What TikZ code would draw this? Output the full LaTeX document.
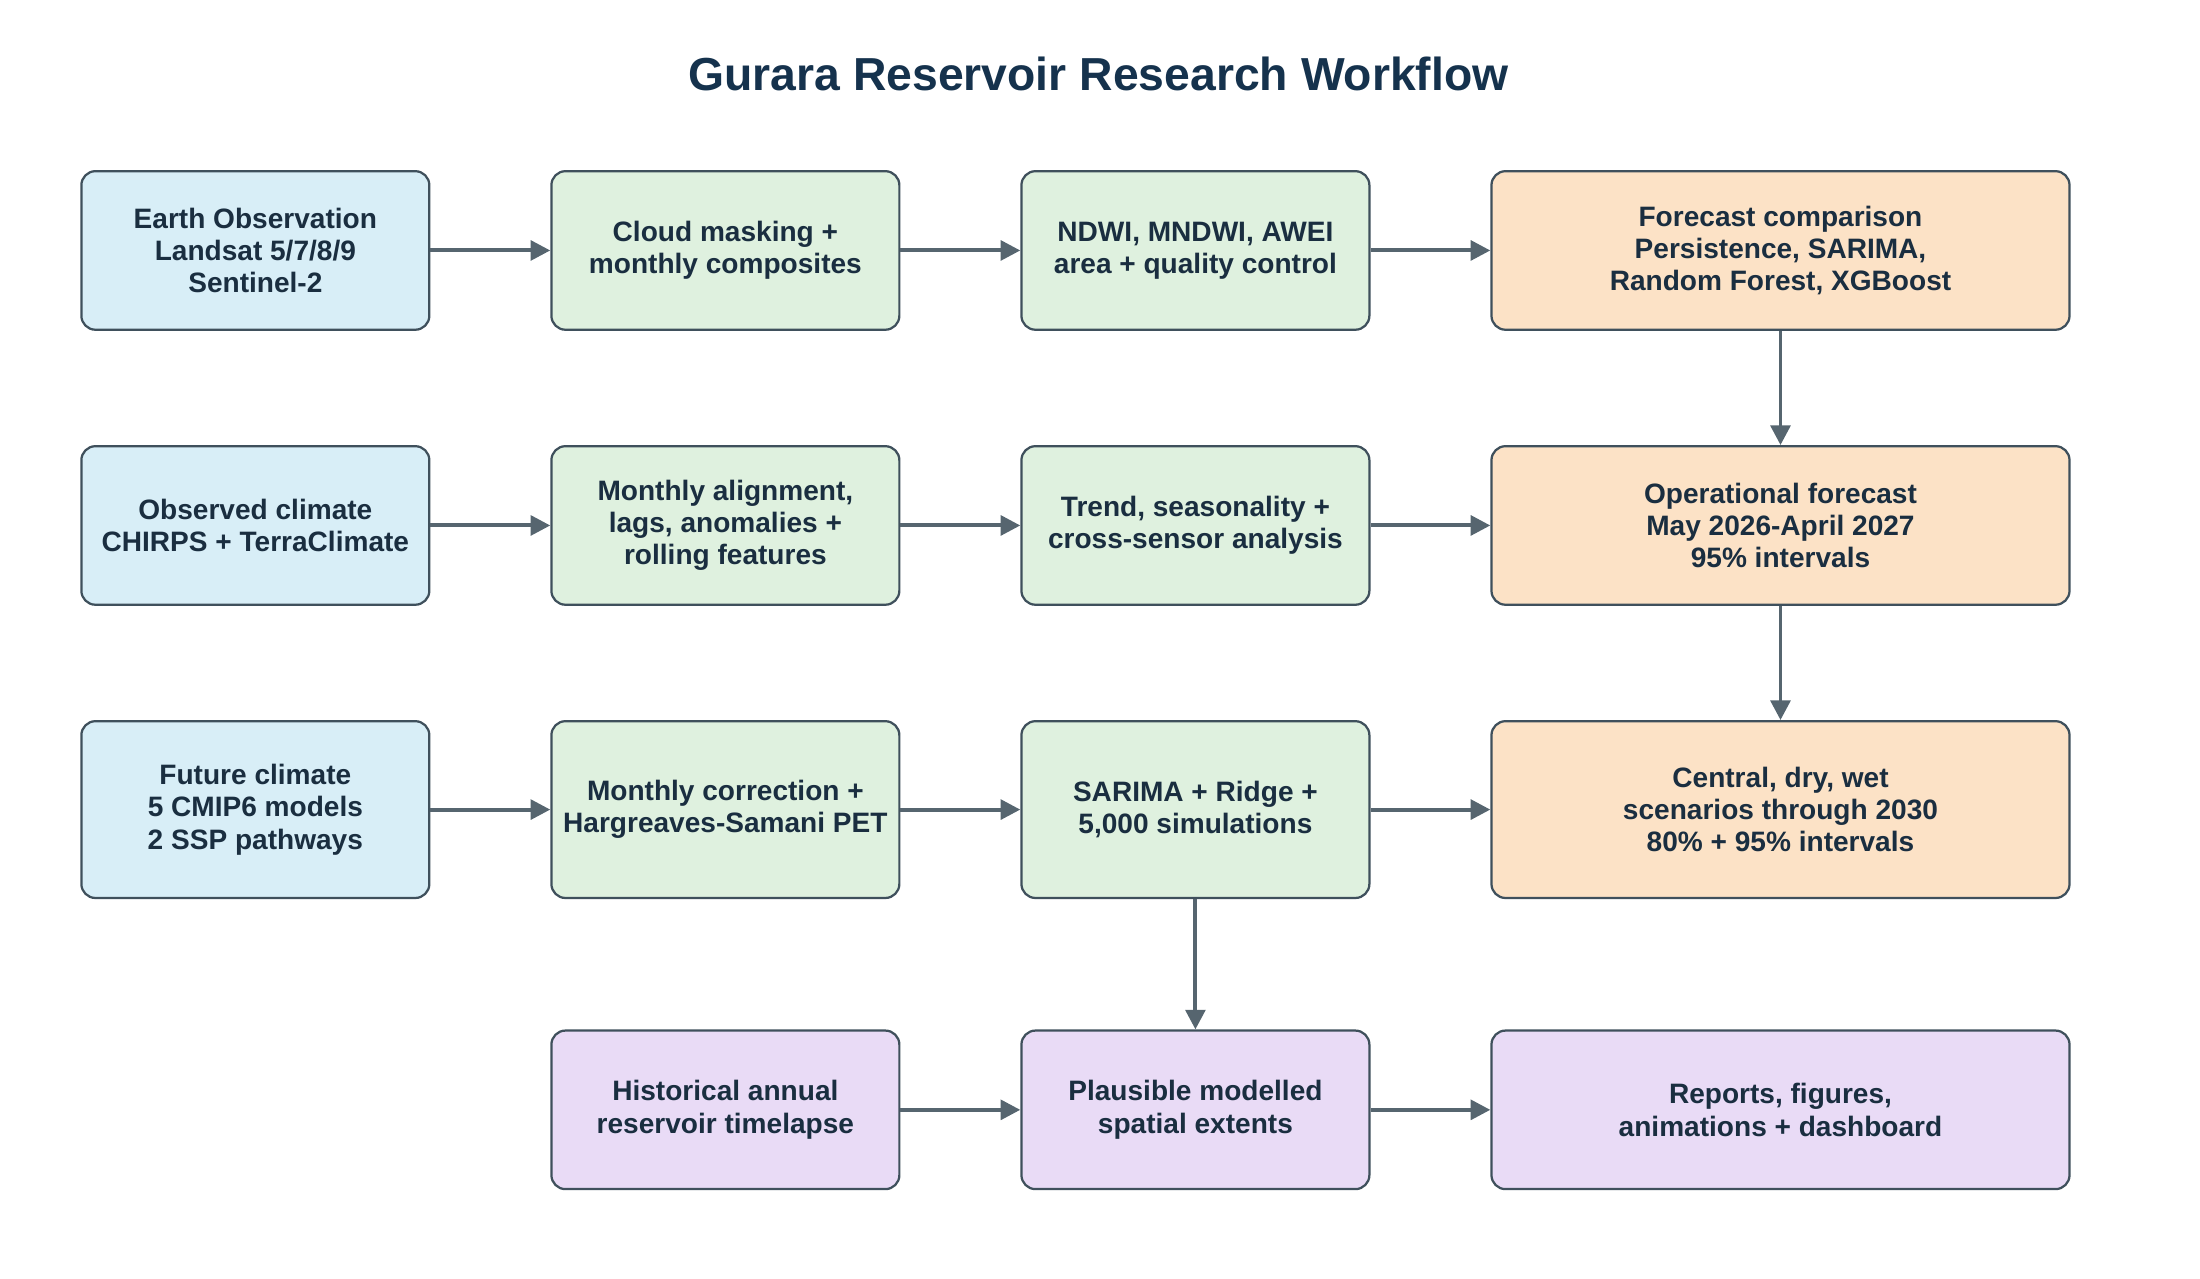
\documentclass[tikz,border=0pt]{standalone}
\usepackage{fontspec}
\setmainfont{Liberation Sans}
\usetikzlibrary{arrows.meta}
\definecolor{bblue}{HTML}{D8EEF7}
\definecolor{bgreen}{HTML}{DFF1DF}
\definecolor{borange}{HTML}{FCE2C6}
\definecolor{bpurple}{HTML}{E9DBF6}
\definecolor{bord}{HTML}{3F505C}
\definecolor{arr}{HTML}{56656F}
\definecolor{txt}{HTML}{1A2E40}
\definecolor{ttl}{HTML}{15324D}
\tikzset{
 box/.style={draw=bord, line width=0.8pt, rounded corners=5pt, align=center, font=\bfseries\fontsize{10}{11.5}\selectfont, text=txt, inner sep=0pt},
 nb/.style={box, fill=bblue, minimum width=124pt, minimum height=56.5pt},
 ng/.style={box, fill=bgreen, minimum width=124pt, minimum height=56.5pt},
 no/.style={box, fill=borange, minimum width=206pt, minimum height=56.5pt},
 np/.style={box, fill=bpurple, minimum width=124pt, minimum height=56.5pt},
 conn/.style={draw=arr, line width=1.4pt, -{Triangle[length=7pt,width=7pt]}, shorten >=0pt}
}
\begin{document}
\begin{tikzpicture}[x=0.5pt,y=-0.5pt]
\useasboundingbox (0,0) rectangle (1568,911.5);
\node[font=\bfseries\fontsize{16.5}{18}\selectfont, text=ttl] (title) at (783,53) {Gurara Reservoir Research Workflow};
% row 1
\node[nb] (a1) at (182,178.5) {Earth Observation\\Landsat 5/7/8/9\\Sentinel-2};
\node[ng] (b1) at (517,178.5) {Cloud masking +\\monthly composites};
\node[ng] (c1) at (852,178.5) {NDWI, MNDWI, AWEI\\area + quality control};
\node[no] (d1) at (1269,178.5) {Forecast comparison\\Persistence, SARIMA,\\Random Forest, XGBoost};
% row 2
\node[nb] (a2) at (182,374.5) {Observed climate\\CHIRPS + TerraClimate};
\node[ng] (b2) at (517,374.5) {Monthly alignment,\\lags, anomalies +\\rolling features};
\node[ng] (c2) at (852,374.5) {Trend, seasonality +\\cross-sensor analysis};
\node[no] (d2) at (1269,374.5) {Operational forecast\\May 2026-April 2027\\95\% intervals};
% row 3
\node[nb, minimum height=63pt] (a3) at (182,577) {Future climate\\5 CMIP6 models\\2 SSP pathways};
\node[ng, minimum height=63pt] (b3) at (517,577) {Monthly correction +\\Hargreaves-Samani PET};
\node[ng, minimum height=63pt] (c3) at (852,577) {SARIMA + Ridge +\\5,000 simulations};
\node[no, minimum height=63pt] (d3) at (1269,577) {Central, dry, wet\\scenarios through 2030\\80\% + 95\% intervals};
% row 4
\node[np] (b4) at (517,791) {Historical annual\\reservoir timelapse};
\node[np] (c4) at (852,791) {Plausible modelled\\spatial extents};
\node[np, minimum width=206pt] (d4) at (1269,791) {Reports, figures,\\animations + dashboard};
% connectors
\draw[conn] (a1) -- (b1); \draw[conn] (b1) -- (c1); \draw[conn] (c1) -- (d1);
\draw[conn] (a2) -- (b2); \draw[conn] (b2) -- (c2); \draw[conn] (c2) -- (d2);
\draw[conn] (a3) -- (b3); \draw[conn] (b3) -- (c3); \draw[conn] (c3) -- (d3);
\draw[conn] (b4) -- (c4); \draw[conn] (c4) -- (d4);
\draw[conn] (d1) -- (d2); \draw[conn] (d2) -- (d3); \draw[conn] (c3) -- (c4);
\end{tikzpicture}
\end{document}
